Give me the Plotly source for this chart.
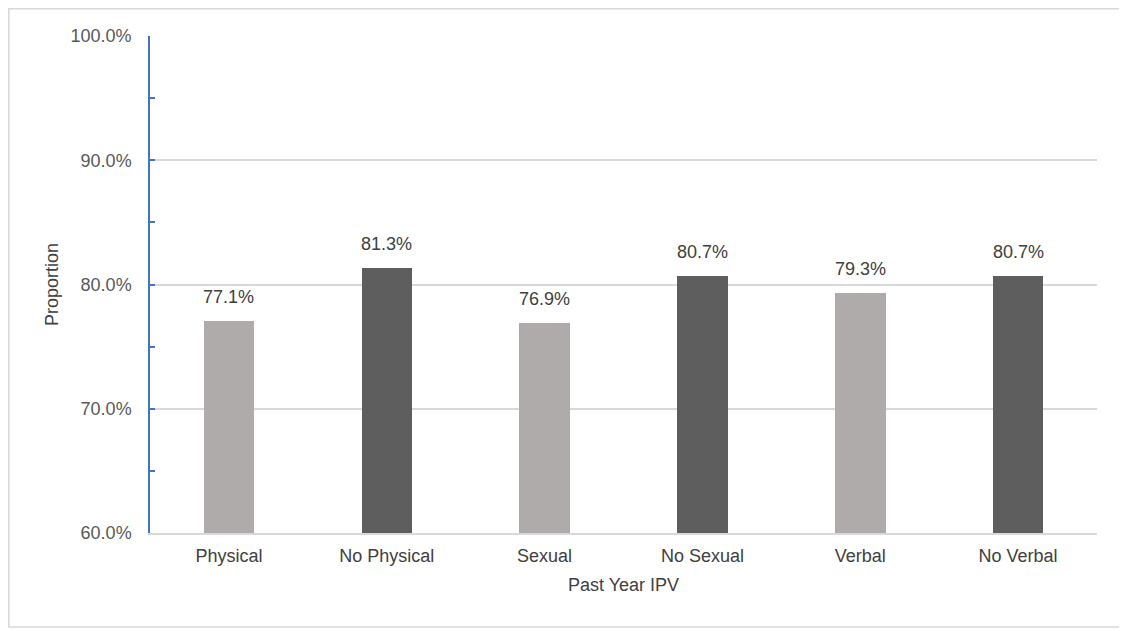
import plotly.graph_objects as go

categories = ["Physical", "No Physical", "Sexual", "No Sexual", "Verbal", "No Verbal"]
values = [0.771, 0.813, 0.769, 0.807, 0.793, 0.807]
bar_colors = ["#AFABAB", "#5E5E5E", "#AFABAB", "#5E5E5E", "#AFABAB", "#5E5E5E"]

FONT = "Arial, Liberation Sans, sans-serif"

# page body has an 8px margin; figure sized/offset to compensate
W, H = 1119, 623
ML, MR, MT, MB = 142, 30, 28, 98
PW, PH = W - ML - MR, H - MT - MB

fig = go.Figure()
fig.add_trace(go.Bar(
    x=categories, y=values, marker=dict(color=bar_colors, line=dict(width=0)),
    width=0.32, hoverinfo="skip",
))

for c, v in zip(categories, values):
    fig.add_annotation(x=c, y=v, text=f"{v*100:.1f}%", showarrow=False,
                       yanchor="bottom", yshift=12,
                       font=dict(family=FONT, size=18, color="#404040"))

fig.update_layout(
    width=W, height=H,
    margin=dict(l=ML, r=MR, t=MT, b=MB),
    paper_bgcolor="white", plot_bgcolor="white",
    showlegend=False,
    font=dict(family=FONT, size=18, color="#595959"),
    bargap=0,
    xaxis=dict(
        showline=True, linecolor="#D9D9D9", linewidth=1.5,
        ticks="", showgrid=False,
        tickfont=dict(size=18, color="#404040"),
        ticklabelstandoff=6,
        title=dict(text="Past Year IPV", font=dict(size=18, color="#404040"), standoff=13),
    ),
    yaxis=dict(
        range=[0.6, 1.0], dtick=0.1, tick0=0.6, tickformat=".1%",
        showline=True, linecolor="#4472C4", linewidth=1.5,
        ticks="inside", ticklen=5, tickcolor="#4472C4", tickwidth=1.5,
        minor=dict(ticks="inside", ticklen=5, dtick=0.05, tickcolor="#4472C4", tickwidth=1.5, showgrid=False),
        showgrid=True, gridcolor="#D9D9D9", gridwidth=1.5,
        zeroline=False,
        tickfont=dict(size=18, color="#595959"),
        ticklabelstandoff=13,
        title=dict(text="Proportion", font=dict(size=18, color="#404040"), standoff=7),
    ),
    shapes=[dict(type="rect", xref="paper", yref="paper",
                 x0=(0.8 - ML) / PW, x1=(1112 - ML) / PW,
                 y0=(PH + MT - 619) / PH, y1=(PH + MT - 0.8) / PH,
                 line=dict(color="#D9D9D9", width=1.6), fillcolor="rgba(0,0,0,0)", layer="below")],
)

fig.write_html("out.html")
